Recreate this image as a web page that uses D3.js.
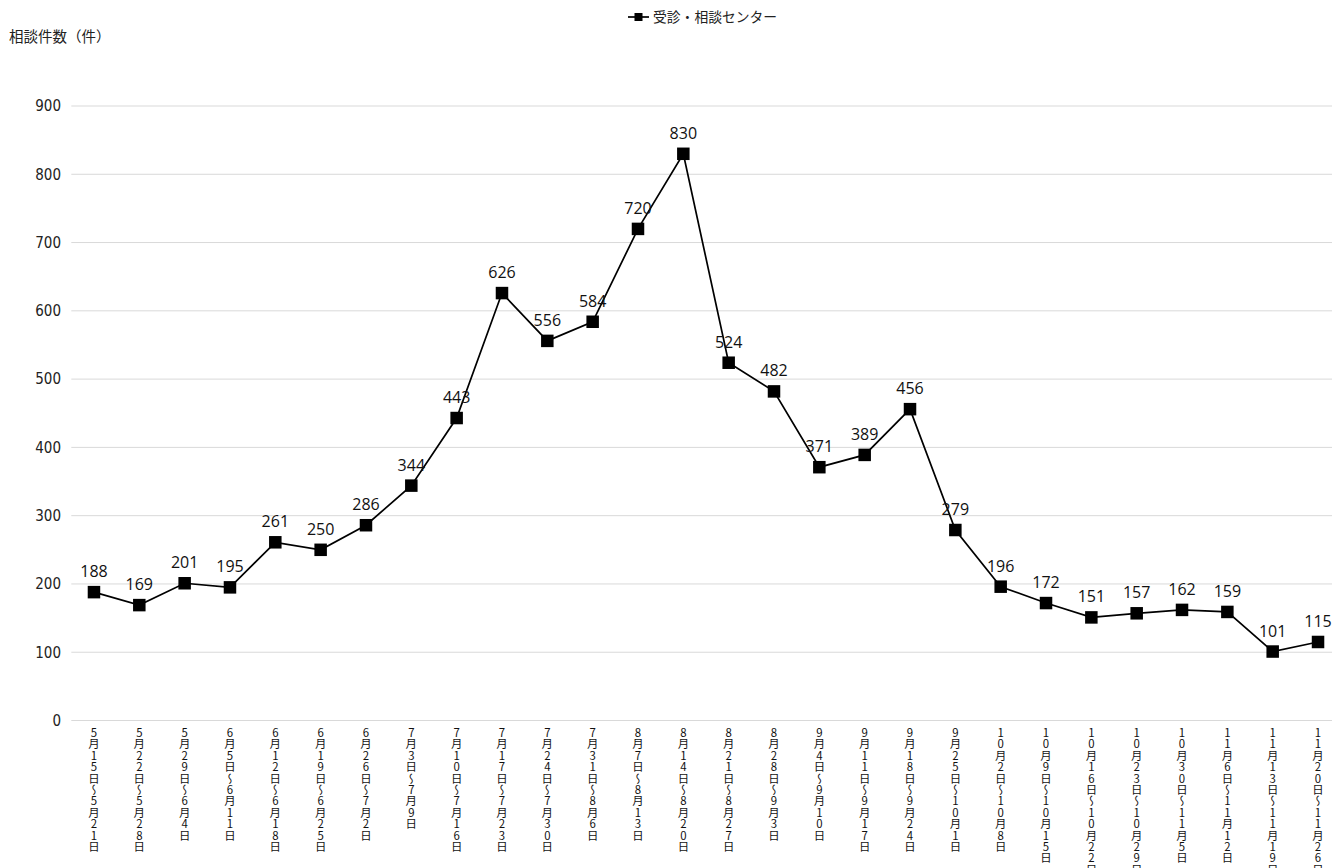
<!DOCTYPE html>
<html>
<head>
<meta charset="utf-8">
<script src="https://cdn.jsdelivr.net/npm/d3@7"></script>
<style>
  html, body { margin: 0; padding: 0; background: #fff; }
  svg { display: block; }
</style>
</head>
<body>
<svg id="chart" width="1332" height="868"></svg>
<script>
// Weekly consultations at the 受診・相談センター
const weeks = [
  "5月15日～5月21日", "5月22日～5月28日", "5月29日～6月4日", "6月5日～6月11日",
  "6月12日～6月18日", "6月19日～6月25日", "6月26日～7月2日", "7月3日～7月9日",
  "7月10日～7月16日", "7月17日～7月23日", "7月24日～7月30日", "7月31日～8月6日",
  "8月7日～8月13日", "8月14日～8月20日", "8月21日～8月27日", "8月28日～9月3日",
  "9月4日～9月10日", "9月11日～9月17日", "9月18日～9月24日", "9月25日～10月1日",
  "10月2日～10月8日", "10月9日～10月15日", "10月16日～10月22日", "10月23日～10月29日",
  "10月30日～11月5日", "11月6日～11月12日", "11月13日～11月19日", "11月20日～11月26日"
];
const consultations = [
  188, 169, 201, 195, 261, 250, 286, 344, 443, 626, 556, 584, 720, 830,
  524, 482, 371, 389, 456, 279, 196, 172, 151, 157, 162, 159, 101, 115
];
const yTicks = [0, 100, 200, 300, 400, 500, 600, 700, 800, 900];
const seriesName = "受診・相談センター";
const yTitle = "相談件数（件）";

const svg = d3.select("#chart");
const plotLeft = 71.3, plotRight = 1340.7, plotTop = 106, plotBottom = 720.5;

const x = d3.scaleBand().domain(weeks).range([plotLeft, plotRight]).padding(0);
const cx = d => x(d) + x.bandwidth() / 2;
const y = d3.scaleLinear().domain([0, 900]).range([plotBottom, plotTop]);

// horizontal gridlines
svg.append("g")
  .selectAll("line")
  .data(yTicks)
  .join("line")
  .attr("x1", plotLeft).attr("x2", plotRight)
  .attr("y1", d => y(d)).attr("y2", d => y(d))
  .attr("stroke", "#d9d9d9").attr("stroke-width", 1);

// y axis labels
const yAxis = d3.axisLeft(y).tickValues(yTicks).tickSize(0).tickPadding(0);
svg.append("g")
  .attr("transform", `translate(61,0)`)
  .call(yAxis)
  .call(g => g.select(".domain").remove())
  .selectAll("text")
  .attr("font-family", "'Liberation Sans Narrow', 'DejaVu Sans Condensed', sans-serif")
  .attr("font-size", 15)
  .attr("fill", "#222");

// x axis labels, set vertically
svg.append("g")
  .selectAll("text")
  .data(weeks)
  .join("text")
  .attr("x", d => cx(d))
  .attr("y", 727)
  .style("writing-mode", "vertical-rl")
  .style("text-orientation", "upright")
  .attr("font-family", "'Noto Sans CJK JP', sans-serif")
  .attr("font-size", 11.4)
  .attr("fill", "#111")
  .text(d => d);

// series line
const points = weeks.map((w, i) => ({ w, v: consultations[i] }));
svg.append("path")
  .datum(points)
  .attr("fill", "none")
  .attr("stroke", "#000")
  .attr("stroke-width", 1.7)
  .attr("d", d3.line().x(d => cx(d.w)).y(d => y(d.v)));

// square markers
svg.append("g")
  .selectAll("rect")
  .data(points)
  .join("rect")
  .attr("x", d => cx(d.w) - 6.25)
  .attr("y", d => y(d.v) - 6.25)
  .attr("width", 12.5).attr("height", 12.5)
  .attr("fill", "#000");

// value labels
svg.append("g")
  .selectAll("text")
  .data(points)
  .join("text")
  .attr("x", d => cx(d.w))
  .attr("y", d => y(d.v) - 15)
  .attr("text-anchor", "middle")
  .attr("font-family", "'Open Sans', sans-serif")
  .attr("font-size", 16)
  .attr("fill", "#111")
  .text(d => d.v);

// y axis title
svg.append("text")
  .attr("x", 9).attr("y", 42)
  .attr("font-family", "'Noto Sans CJK JP', sans-serif")
  .attr("font-size", 14.5)
  .attr("fill", "#222")
  .text(yTitle);

// legend
const lg = svg.append("g").attr("transform", "translate(628,17)");
lg.append("line").attr("x1", 0).attr("x2", 21).attr("y1", 0).attr("y2", 0)
  .attr("stroke", "#000").attr("stroke-width", 1.7);
lg.append("rect").attr("x", 6.5).attr("y", -4).attr("width", 8).attr("height", 8).attr("fill", "#000");
lg.append("text").attr("x", 25).attr("y", 5)
  .attr("font-family", "'Noto Sans CJK JP', sans-serif")
  .attr("font-size", 13.8)
  .attr("fill", "#222")
  .text(seriesName);
</script>
</body>
</html>
